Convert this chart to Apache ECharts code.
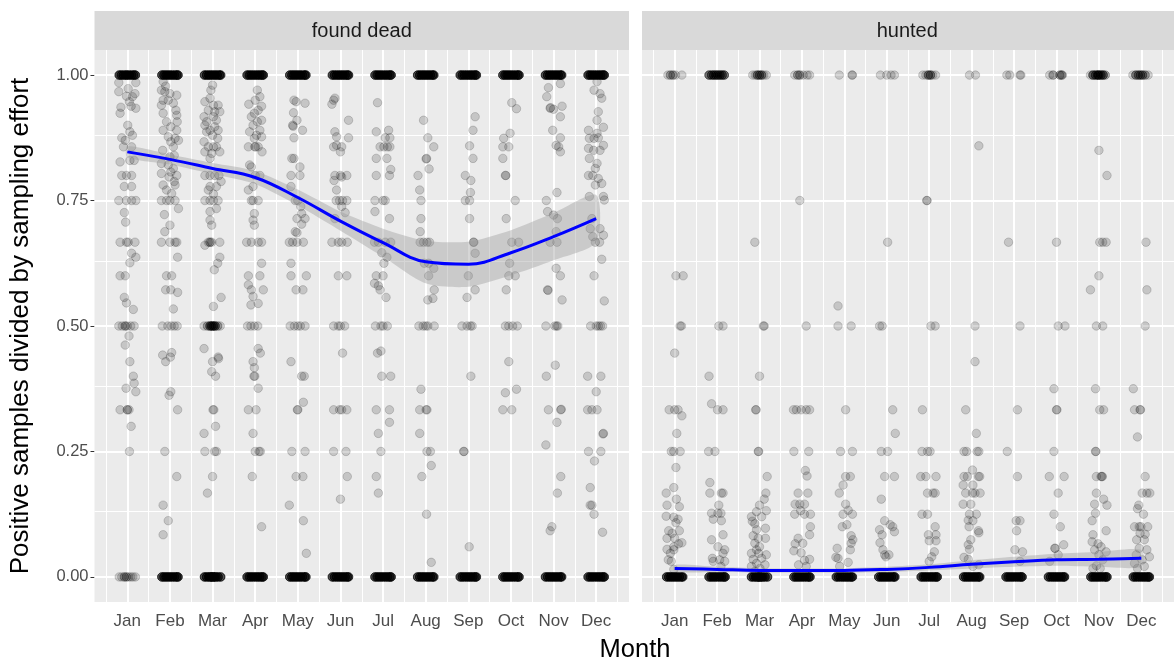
<!DOCTYPE html>
<html>
<head>
<meta charset="utf-8">
<script src="https://cdn.jsdelivr.net/npm/echarts@6/dist/echarts.min.js"></script>
<style>
  html, body { margin: 0; padding: 0; background: #fff; }
  #chart { width: 1174px; height: 664px; }
</style>
</head>
<body>
<div id="chart"></div>
<script>
// Month labels for the x axis (x = 1..12)
const months = ['Jan','Feb','Mar','Apr','May','Jun','Jul','Aug','Sep','Oct','Nov','Dec'];
const yTicks = [0, 0.25, 0.5, 0.75, 1];

// Observations per month as [jitter, ratio, count]; jitter is the horizontal offset
// from the month, count (default 1) is the number of samples stacked at that spot
const deadPoints = [
  // Jan
  [[-.19,1,6],[-.14,1,6],[-.09,1,6],[-.04,1,6],[0,1,6],[.05,1,6],[.1,1,6],[.15,1,6],[.19,1,6],
   [-.2,.985],[.2,.985],[-.2,.967],[.02,.973],[.18,.963],[-.02,.958],[.12,.957],[.05,.947],[-.15,.936],[.09,.938],[.2,.934],
   [-.17,.924],[.01,.9],[.06,.887],[-.13,.875],[.12,.88],[-.05,.87],[-.09,.857],[.1,.857],[-.17,.827],[.06,.83],[.16,.83],
   [-.13,.8],[-.02,.8],[.1,.8],[-.07,.778],[.1,.778],[-.2,.75],[-.02,.75],[.1,.75],[.2,.75],[-.07,.726],[-.04,.707],
   [-.17,.667],[-.02,.667],[.02,.667],[.18,.667],[.1,.645],[.06,.626],[.2,.637],[-.17,.6],[-.05,.6],[-.07,.557],[-.02,.546],[.14,.533],
   [-.2,.5],[-.12,.5],[-.05,.5,2],[0,.5],[.08,.5],[.16,.5],
   [.04,.48],[-.05,.462],[.06,.429],[.14,.4],[.16,.386],[-.03,.376],[.2,.369],[-.17,.333],[0,.333,2],[.04,.333],[.09,.3],[.05,.25],
   [-.19,0],[-.13,0],[-.07,0,2],[-.02,0,2],[.03,0],[.08,0],[.13,0],[.19,0]],
  // Feb
  [[-.19,1,6],[-.14,1,6],[-.09,1,6],[-.04,1,6],[.01,1,6],[.06,1,6],[.11,1,6],[.16,1,6],[.19,1,6],
   [-.16,.987],[-.1,.978],[-.2,.97],[-.12,.967],[0,.963],[.16,.96],[-.16,.95],[-.04,.95],[-.2,.94],[.08,.944],[.14,.93],
   [-.16,.924],[.16,.92],[-.08,.907],[.17,.907],[.02,.897],[-.16,.89],[.16,.89],[-.04,.877],[.12,.874],[.02,.867],[.2,.87],
   [.08,.857],[-.17,.85],[.1,.84],[0,.837],[-.2,.824],[-.04,.821],[.08,.814],[.02,.807],[.16,.8],[-.2,.804],[-.02,.797],
   [.1,.788],[-.16,.781],[.12,.781],[-.08,.771],[.04,.764],[-.2,.75],[-.08,.75],[0,.75],[.12,.75],[.2,.734],[-.13,.722],
   [0,.701],[-.12,.688],[-.2,.667],[0,.667],[.12,.667],[.16,.667],[.18,.637],[-.08,.6],[.04,.6],[-.1,.572],[.02,.572],[.18,.567],[.08,.534],
   [-.18,.5],[-.05,.5],[.03,.5],[.1,.5],[.17,.5],
   [-.17,.442],[.04,.447],[-.1,.429],[.01,.438],[.02,.369],[-.02,.362],[.18,.333],[-.12,.25],[.16,.2],[-.16,.143],[-.04,.112],[-.16,.084],
   [-.19,0,6],[-.14,0,6],[-.09,0,6],[-.04,0,6],[.01,0,6],[.06,0,6],[.11,0,6],[.16,0,6],[.19,0,6]],
  // Mar
  [[-.19,1,6],[-.14,1,6],[-.09,1,6],[-.04,1,6],[.01,1,6],[.06,1,6],[.11,1,6],[.16,1,6],[.19,1,6],
   [0,.98],[-.04,.97],[-.18,.947],[-.06,.954],[.02,.94],[.13,.94],[.17,.927],[-.1,.93],[.05,.927],[-.2,.917],[-.14,.907],
   [.02,.917],[-.18,.9],[.09,.91],[-.06,.89],[.05,.897],[.13,.89],[-.14,.887],[0,.88],[.12,.874],[-.2,.867],[-.1,.857],
   [.02,.857],[.09,.857],[-.18,.847],[-.02,.844],[.17,.847],[-.06,.834],[-.18,.8],[-.06,.8],[.05,.8],[.15,.8],[.2,.788],
   [-.06,.778],[.09,.778],[-.1,.771],[.02,.763],[-.18,.75],[-.06,.75],[.02,.75],[.13,.75],[.09,.734],[-.06,.728],[-.06,.711],
   [-.02,.701],[-.1,.667],[-.06,.667,2],[-.02,.667],[.17,.667],[-.18,.661],[.17,.637],[.12,.625],[.04,.612],[.2,.557],[.02,.539],
   [-.2,.5],[-.12,.5,2],[-.06,.5,4],[-.02,.5,4],[.02,.5,4],[.06,.5,4],[.12,.5,2],[.18,.5],
   [-.2,.455],[0,.429],[.13,.438],[.14,.435],[-.02,.409],[.07,.4],[.01,.333],[.03,.333],[.07,.3],[-.2,.286],[-.18,.25],[.05,.25],[.09,.25],[0,.2],[-.12,.167],
   [-.19,0,6],[-.14,0,6],[-.09,0,6],[-.05,0,6],[-.02,0,6],[.01,0,6],[.04,0,6],[.08,0,6],[.13,0,6],[.19,0,6]],
  // Apr
  [[-.19,1,6],[-.14,1,6],[-.09,1,6],[-.04,1,6],[.01,1,6],[.06,1,6],[.11,1,6],[.16,1,6],[.19,1,6],
   [.05,.97],[.11,.957],[0,.95],[-.15,.942],[.15,.938],[.07,.93],[-.02,.924],[-.09,.917],[.15,.91],[.05,.907],[-.05,.9],
   [-.13,.887],[.11,.89],[.03,.88],[.15,.877],[-.02,.874],[-.16,.857],[-.01,.857],[.01,.857],[.07,.857],[.16,.847],[-.13,.821],
   [-.09,.817],[.11,.8],[0,.8],[-.16,.771],[-.05,.778],[-.09,.75],[.07,.75],[-.05,.75],[-.02,.724],[-.05,.711],[-.02,.701],
   [-.2,.667],[-.09,.667],[.07,.667],[.15,.667],[.15,.625],[-.16,.6],[.11,.6],[-.16,.582],[-.09,.572],[.19,.572],[-.05,.559],[-.1,.542],[.07,.545],
   [-.18,.5],[-.1,.5],[-.02,.5],[.06,.5],
   [.07,.455],[.12,.446],[-.05,.429],[-.02,.417],[-.03,.4],[-.01,.4],[.07,.376],[-.16,.333],[.02,.333],[-.05,.286],[0,.25],[.09,.25],[.12,.25],[-.07,.2],[.15,.1],
   [-.19,0,6],[-.14,0,6],[-.09,0,6],[-.04,0,6],[.01,0,6],[.06,0,6],[.11,0,6],[.16,0,6],[.19,0,6]],
  // May
  [[-.19,1,6],[-.14,1,6],[-.09,1,6],[-.04,1,6],[.01,1,6],[.06,1,6],[.11,1,6],[.16,1,6],[.19,1,6],
   [-.09,.95],[-.04,.947],[.17,.944],[-.1,.925],[-.02,.91],[-.12,.9],[-.11,.898],[.11,.89],[-.09,.875],[-.14,.834],[-.09,.834],
   [.05,.817],[-.16,.8],[.05,.8],[-.16,.778],[-.06,.75],[0,.75],[.07,.738],[.09,.724],[-.02,.714],[.17,.714],[.09,.703],
   [-.06,.688],[-.02,.686],[-.2,.667],[-.12,.667],[-.02,.667],[.13,.667],[-.16,.625],[-.16,.6],[.2,.6],[-.04,.572],[.12,.572],
   [-.18,.5],[-.08,.5],[0,.5],[.06,.5],[.17,.5],
   [-.16,.429],[.09,.4],[.15,.4],[.13,.348],[0,.333],[-.01,.333],[-.14,.25],[.17,.25],[-.04,.2],[.12,.2],[-.2,.143],[.13,.112],[.2,.047],
   [-.19,0,6],[-.14,0,6],[-.09,0,6],[-.04,0,6],[.01,0,6],[.06,0,6],[.11,0,6],[.16,0,6],[.19,0,6]],
  // Jun
  [[-.19,1,6],[-.14,1,6],[-.09,1,6],[-.04,1,6],[.01,1,6],[.06,1,6],[.11,1,6],[.16,1,6],[.19,1,6],
   [-.16,.95],[-.13,.954],[-.2,.942],[.19,.91],[-.13,.887],[-.09,.877],[.19,.875],[-.16,.857],[-.09,.86],[.03,.857],[0,.847],
   [-.13,.8],[0,.8],[.15,.8],[-.15,.79],[.03,.797],[-.09,.771],[-.1,.75],[-.02,.75],[.05,.75],[.15,.75],[.03,.738],[.11,.726],
   [-.13,.714],[-.2,.667],[-.05,.667],[.03,.667],[.16,.667],[-.05,.6],[.15,.6],
   [-.16,.5],[-.05,.5],[0,.5],[.1,.5],
   [.05,.446],[-.16,.333],[-.02,.333],[.03,.333],[.15,.333],[-.16,.25],[.13,.25],[.16,.2],[0,.155],
   [-.19,0,6],[-.14,0,6],[-.09,0,6],[-.04,0,6],[.01,0,6],[.06,0,6],[.11,0,6],[.16,0,6],[.19,0,6]],
  // Jul
  [[-.19,1,6],[-.14,1,6],[-.09,1,6],[-.04,1,6],[.01,1,6],[.06,1,6],[.11,1,6],[.16,1,6],[.19,1,6],
   [-.13,.945],[-.16,.887],[.13,.89],[.05,.875],[.16,.875],[-.07,.857],[.02,.857],[.1,.857],[.16,.857],[-.16,.834],[.09,.834],
   [.18,.812],[.15,.8],[-.16,.8],[-.19,.75],[0,.75],[.05,.75],[-.19,.728],[.15,.714],[-.2,.667],[-.11,.667],[.05,.667],[.18,.667],
   [-.03,.646],[.09,.637],[.02,.625],[-.16,.6],[0,.6],[-.2,.585],[-.11,.58],[-.07,.572],[.07,.557],
   [-.18,.5],[-.05,.5],[0,.5],[.1,.5],
   [-.13,.446],[-.05,.45],[-.03,.4],[.18,.4],[-.16,.333],[.15,.333],[.15,.308],[-.11,.286],[-.05,.25],[-.16,.2],[-.11,.167],
   [-.19,0,6],[-.14,0,6],[-.09,0,6],[-.04,0,6],[.01,0,6],[.06,0,6],[.11,0,6],[.16,0,6],[.19,0,6]],
  // Aug
  [[-.19,1,6],[-.14,1,6],[-.09,1,6],[-.04,1,6],[.01,1,6],[.06,1,6],[.11,1,6],[.16,1,6],[.19,1,6],
   [-.05,.91],[.05,.875],[.19,.857],[.02,.834],[.01,.833],[.08,.813],[-.18,.8],[-.14,.771],[-.11,.75],[-.11,.714],[-.13,.688],
   [-.13,.667],[-.05,.667],[.03,.667],[.09,.667],[-.03,.625],[.07,.625],[.19,.615],[.07,.6],[.2,.572],[.17,.555],[.05,.552],
   [-.16,.5],[-.06,.5],[0,.5],[.05,.5],[.2,.5],
   [-.11,.374],[-.14,.333],[.01,.333],[.03,.333],[-.14,.286],[.03,.25],[.11,.25],[.13,.222],[-.09,.2],[.02,.125],[.13,.029],
   [-.19,0,6],[-.14,0,6],[-.09,0,6],[-.04,0,6],[.01,0,6],[.06,0,6],[.11,0,6],[.16,0,6],[.19,0,6]],
  // Sep
  [[-.19,1,6],[-.14,1,6],[-.09,1,6],[-.04,1,6],[.01,1,6],[.06,1,6],[.11,1,6],[.16,1,6],[.19,1,6],
   [.16,.917],[.11,.89],[.03,.859],[.11,.834],[-.07,.8],[.06,.79],[.05,.766],[-.07,.75],[.03,.75],[.03,.714],[.13,.667],[.12,.667],
   [.16,.645],[0,.6],[.16,.572],[-.03,.557],
   [-.15,.5],[-.03,.5],[.05,.5],[.09,.5],
   [.06,.4],[-.11,.25],[-.1,.25],[.02,.06],
   [-.19,0,6],[-.14,0,6],[-.09,0,6],[-.04,0,6],[.01,0,6],[.06,0,6],[.11,0,6],[.16,0,6],[.19,0,6]],
  // Oct
  [[-.19,1,6],[-.14,1,6],[-.09,1,6],[-.04,1,6],[.01,1,6],[.06,1,6],[.11,1,6],[.16,1,6],[.19,1,6],
   [.02,.945],[.13,.933],[-.02,.884],[-.17,.874],[-.19,.857],[-.05,.857],[-.19,.834],[-.13,.8],[-.12,.8],[.1,.75],[-.11,.714],
   [.02,.667],[.18,.667],[-.03,.625],[-.05,.6],[.1,.6],[-.11,.572],
   [-.13,.5],[-.05,.5],[.04,.5],[.15,.5],
   [-.05,.429],[-.13,.367],[.13,.374],[-.19,.333],[.02,.333],
   [-.19,0,6],[-.14,0,6],[-.09,0,6],[-.04,0,6],[.01,0,6],[.06,0,6],[.11,0,6],[.16,0,6],[.19,0,6]],
  // Nov
  [[-.19,1,6],[-.14,1,6],[-.09,1,6],[-.04,1,6],[.01,1,6],[.06,1,6],[.11,1,6],[.16,1,6],[.19,1,6],
   [-.12,.975],[.16,.983],[-.16,.957],[-.08,.934],[-.07,.935],[0,.932],[.2,.938],[.16,.917],[-.02,.89],[.16,.875],[.06,.86],
   [.12,.857],[.16,.847],[.08,.766],[-.17,.75],[-.14,.728],[0,.721],[.09,.714],[.06,.688],[-.08,.667],[.08,.667],[.06,.615],
   [.16,.6],[-.14,.572],[-.13,.571],[.2,.552],
   [-.18,.5],[.03,.5],[.07,.5],[.1,.5],
   [.04,.422],[-.17,.4],[-.12,.333],[.17,.333],[.18,.334],[.08,.308],[-.18,.263],[.17,.2],[.09,.167],[-.04,.1],[-.08,.092],
   [-.19,0,6],[-.14,0,6],[-.09,0,6],[-.04,0,6],[.01,0,6],[.06,0,6],[.11,0,6],[.16,0,6],[.19,0,6]],
  // Dec
  [[-.19,1,6],[-.14,1,6],[-.09,1,6],[-.04,1,6],[.01,1,6],[.06,1,6],[.11,1,6],[.16,1,6],[.19,1,6],
   [.02,.987],[-.05,.97],[.09,.963],[.13,.954],[.05,.927],[.02,.91],[-.18,.89],[.02,.884],[.17,.896],[-.16,.874],[-.05,.874],
   [.05,.875],[.17,.86],[-.18,.854],[-.06,.85],[.09,.85],[-.16,.834],[.02,.824],[-.02,.814],[-.18,.8],[-.08,.8],[.05,.794],
   [-.02,.781],[.13,.784],[-.16,.758],[.17,.758],[.19,.751],[-.1,.714],[-.14,.694],[.09,.694],[-.08,.678],[.17,.681],
   [-.02,.667],[.08,.667],[.13,.633],[-.05,.6],[.19,.55],
   [-.13,.5],[0,.5],[.05,.5],[.1,.5],[.15,.5],
   [-.2,.4],[.11,.4],[0,.369],[-.2,.333],[-.1,.333],[.02,.333],[.17,.286],[.16,.285],[-.18,.25],[.11,.25],[-.04,.231],[-.14,.178],
   [-.14,.143],[-.1,.143],[-.05,.125],[.15,.089],
   [-.19,0,6],[-.14,0,6],[-.09,0,6],[-.04,0,6],[.01,0,6],[.06,0,6],[.11,0,6],[.16,0,6],[.19,0,6]]
];

const huntedPoints = [
  // Jan
  [[-.16,1],[-.1,1,2],[-.04,1,2],[.02,1],[.17,1],[.03,.6],[.2,.6],[.13,.5],[.16,.5],
   [0,.446],[-.13,.333],[0,.333],[.08,.333],[.17,.321],[.05,.286],[-.08,.25],[-.02,.25],[.13,.25],[.03,.218],[-.02,.178],
   [-.2,.167],[.04,.155],[-.18,.143],[.11,.14],[-.2,.121],[-.02,.119],[.08,.115],[.03,.108],[.11,.092],[-.14,.092],[-.06,.087],
   [-.18,.077],[0,.077],[.17,.068],[.09,.066],[-.02,.06],[-.18,.055],[-.02,.054],[-.1,.047],[-.15,.034],[-.08,.031],[-.02,.015],
   [-.19,0,6],[-.14,0,6],[-.09,0,6],[-.04,0,6],[.01,0,6],[.06,0,6],[.11,0,6],[.16,0,6],[.19,0,6]],
  // Feb
  [[-.19,1,4],[-.13,1,4],[-.08,1,4],[-.03,1,4],[.02,1,4],[.07,1,4],[.12,1,4],[.17,1,4],
   [.04,.5],[.14,.5],[-.19,.4],[-.13,.345],[.01,.333],[.14,.333],[-.2,.25],[-.05,.25],[-.17,.188],[-.17,.167],[.1,.167],[.14,.167],
   [.04,.143],[-.13,.127],[.02,.127],[.09,.127],[-.09,.115],[.1,.112],[.14,.084],[-.13,.074],[.02,.06],[.18,.054],[.14,.047],
   [-.11,.037],[.06,.034],[.18,.031],[-.09,.031],[.09,.021],
   [-.19,0,6],[-.14,0,6],[-.09,0,6],[-.04,0,6],[.01,0,6],[.06,0,6],[.11,0,6],[.16,0,6],[.19,0,6]],
  // Mar
  [[-.16,1],[-.1,1],[-.05,1,3],[0,1,3],[.05,1,3],[.1,1],[.16,1],
   [-.11,.667],[.09,.5],[.11,.5],[0,.4],[-.09,.333],[-.08,.333],[-.03,.25],[-.02,.25],[.18,.2],[.15,.167],[.11,.155],[0,.143],
   [.16,.132],[-.07,.13],[-.19,.12],[-.17,.111],[-.11,.106],[.05,.12],[-.07,.094],[.14,.097],[-.15,.082],[-.03,.077],[.14,.077],
   [-.11,.067],[0,.06],[-.07,.054],[-.19,.047],[-.02,.047],[.16,.044],[-.15,.035],[.05,.037],[-.07,.027],[.13,.024],[-.19,.021],
   [.01,.017],[-.11,.011],
   [-.19,0,6],[-.14,0,6],[-.09,0,6],[-.05,0,6],[-.02,0,6],[.01,0,6],[.04,0,6],[.08,0,6],[.13,0,6],[.19,0,6]],
  // Apr
  [[-.17,1],[-.1,1,2],[-.05,1,2],[.03,1],[.12,1],[.18,1],
   [-.05,.75],[.1,.5],[-.2,.333],[-.13,.333],[-.02,.333],[.1,.333],[.18,.333],[-.19,.25],[.16,.25],[.08,.212],[.12,.201],
   [-.09,.167],[.14,.167],[-.16,.145],[-.05,.145],[.06,.145],[-.17,.125],[-.03,.132],[.06,.125],[.2,.125],[.2,.1],[.18,.084],
   [-.09,.077],[-.16,.066],[.02,.067],[-.19,.052],[-.02,.048],[.18,.035],[.06,.033],[-.08,.024],[.1,.021],
   [-.19,0,6],[-.14,0,6],[-.09,0,6],[-.04,0,6],[.01,0,6],[.06,0,6],[.11,0,6],[.16,0,6],[.19,0,6]],
  // May
  [[-.12,1],[.18,1],[.19,1],
   [-.15,.54],[-.15,.5],[.16,.5],[.03,.333],[-.09,.25],[.19,.25],[.03,.2],[.14,.2],[-.03,.183],[-.12,.167],[.03,.145],[.09,.133],
   [.19,.125],[-.03,.125],[-.05,.1],[.06,.104],[.16,.082],[.2,.074],[.16,.067],[.14,.054],[-.17,.057],[-.2,.039],[-.15,.037],
   [.09,.029],[-.11,.021],
   [-.19,0,6],[-.14,0,6],[-.09,0,6],[-.04,0,6],[.01,0,6],[.06,0,6],[.11,0,6],[.16,0,6],[.19,0,6]],
  // Jun
  [[-.15,1],[0,1],[.1,1],[.18,1],
   [.02,.667],[-.17,.5],[-.11,.5],[.14,.333],[.2,.286],[-.13,.25],[.02,.25],[-.05,.2],[.18,.2],[-.13,.155],[-.05,.112],[.14,.1],
   [.08,.104],[.18,.09],[-.17,.094],[-.11,.084],[-.16,.068],[-.09,.054],[-.02,.04],[-.05,.044],[.05,.044],
   [-.19,0,6],[-.14,0,6],[-.09,0,6],[-.04,0,6],[.01,0,6],[.06,0,6],[.11,0,6],[.16,0,6],[.19,0,6]],
  // Jul
  [[-.15,1],[-.08,1],[-.02,1,3],[.03,1,3],[.08,1],[.15,1],
   [-.06,.75],[-.05,.75],[.04,.5],[.14,.5],[-.16,.333],[-.17,.25],[-.04,.25],[.02,.25],[-.2,.2],[-.08,.2],[.16,.2],[-.04,.167],
   [.09,.167],[.14,.167],[-.17,.125],[-.04,.125],[.14,.1],[-.02,.084],[.16,.084],[0,.072],[.16,.072],[.12,.05],[.06,.04],[0,.031],
   [-.19,0,6],[-.14,0,6],[-.09,0,6],[-.04,0,6],[.01,0,6],[.06,0,6],[.11,0,6],[.16,0,6],[.19,0,6]],
  // Aug
  [[-.05,1],[.09,1],
   [.17,.859],[.08,.5],[.08,.429],[-.14,.333],[.11,.286],[-.18,.25],[-.12,.25],[.13,.25],[.17,.25],[.02,.213],[-.18,.2],[-.1,.2],
   [.16,.2],[.19,.2],[-.2,.183],[.03,.183],[-.14,.167],[.02,.167],[.08,.167],[.2,.167],[-.2,.145],[-.02,.145],[-.05,.125],
   [.11,.125],[-.08,.113],[.03,.112],[-.06,.1],[.16,.092],[.17,.088],[-.02,.074],[-.08,.064],[-.05,.055],[-.18,.039],[-.08,.035],
   [.17,.024],[.03,.021],
   [-.19,0,6],[-.14,0,6],[-.09,0,6],[-.04,0,6],[.01,0,6],[.06,0,6],[.11,0,6],[.16,0,6],[.19,0,6]],
  // Sep
  [[-.17,1],[-.1,1],[.14,1],[.16,1],
   [-.13,.667],[.14,.5],[.08,.333],[-.16,.25],[.08,.2],[.05,.112],[.14,.112],[.06,.092],[.02,.054],[.2,.05],[.14,.031],
   [-.19,0,6],[-.14,0,6],[-.09,0,6],[-.04,0,6],[.01,0,6],[.06,0,6],[.11,0,6],[.16,0,6],[.19,0,6]],
  // Oct
  [[-.16,1],[-.08,1,2],[.08,1,2],[.12,1,2],[.14,1],
   [0,.667],[.04,.5],[.2,.5],[-.06,.375],[0,.333],[.01,.333],[-.06,.25],[-.17,.2],[.18,.2],[.04,.167],[-.06,.125],[.09,.1],
   [.17,.064],[-.04,.057],[-.03,.057],[.04,.044],[-.16,.031],
   [-.19,0,6],[-.14,0,6],[-.09,0,6],[-.04,0,6],[.01,0,6],[.06,0,6],[.11,0,6],[.16,0,6],[.19,0,6]],
  // Nov
  [[-.2,1],[-.14,1,4],[-.08,1,4],[-.03,1,4],[0,1,4],[.05,1,4],[.1,1,4],[.15,1,2],
   [0,.85],[.19,.8],[.02,.667],[.09,.667],[.17,.667],[0,.6],[-.2,.572],[-.06,.5],[.09,.5],[-.08,.375],[.02,.333],[.11,.333],
   [-.08,.25],[-.07,.25],[-.06,.2],[.05,.2],[.08,.2],[.07,.2],[-.06,.167],[.19,.143],[.11,.155],[-.1,.145],[-.08,.127],[-.16,.112],
   [.17,.092],[-.14,.084],[-.16,.07],[-.02,.066],[.05,.06],[.17,.05],[-.1,.054],[0,.044],[.09,.034],[-.14,.017],[.03,.017],[-.06,.022],
   [-.19,0,6],[-.14,0,6],[-.09,0,6],[-.04,0,6],[.01,0,6],[.06,0,6],[.11,0,6],[.16,0,6],[.19,0,6]],
  // Dec
  [[-.2,1],[-.13,1,3],[-.07,1,3],[-.02,1,3],[.03,1,3],[.09,1,2],[.16,1],
   [.11,.667],[.13,.572],[.09,.5],[-.19,.375],[-.16,.333],[-.03,.333],[-.02,.333],[-.09,.279],[.09,.2],[.02,.167],[.13,.167],
   [.2,.167],[-.06,.143],[-.09,.136],[.05,.125],[-.16,.1],[-.05,.1],[-.01,.1],[.15,.1],[-.03,.087],[.09,.085],[-.11,.074],
   [.07,.074],[-.05,.057],[.13,.054],[.19,.04],[-.12,.044],[.02,.034],[-.16,.027],[.07,.021],[-.09,.017],
   [-.19,0,6],[-.14,0,6],[-.09,0,6],[-.04,0,6],[.01,0,6],[.06,0,6],[.11,0,6],[.16,0,6],[.19,0,6]]
];

// Smoothed trend per month with its confidence band
const deadFit  = [0.847, 0.832, 0.814, 0.796, 0.756, 0.709, 0.666, 0.628, 0.623, 0.646, 0.678, 0.714];
const deadLow  = [0.836, 0.822, 0.803, 0.783, 0.740, 0.690, 0.638, 0.585, 0.578, 0.601, 0.631, 0.667];
const deadHigh = [0.858, 0.842, 0.825, 0.809, 0.772, 0.728, 0.694, 0.670, 0.668, 0.691, 0.725, 0.761];
const huntedFit  = [0.017, 0.015, 0.013, 0.013, 0.013, 0.015, 0.019, 0.025, 0.030, 0.034, 0.035, 0.037];
const huntedLow  = [0.010, 0.010, 0.009, 0.009, 0.009, 0.010, 0.013, 0.017, 0.020, 0.022, 0.020, 0.020];
const huntedHigh = [0.024, 0.020, 0.017, 0.017, 0.017, 0.020, 0.025, 0.033, 0.040, 0.046, 0.050, 0.054];

const panels = ['found dead', 'hunted'];

const chart = echarts.init(document.getElementById('chart'), null, { renderer: 'canvas' });

const gridRects = [
  { left: 94.5, top: 50, width: 534.5, height: 552 },
  { left: 642, top: 50, width: 534.5, height: 552 }
];
const monthValues = months.map((m, i) => i + 1);
const minorX = months.map((m, i) => i + 0.5).concat([12.5]);
const minorY = [0.125, 0.375, 0.625, 0.875];
const font = 'Liberation Sans, Arial, sans-serif';

// month-grouped [jitter, ratio, count] -> flat [x, y] samples
function toXY(points) {
  const out = [];
  points.forEach((list, m) => list.forEach(p => {
    const n = p[2] || 1;
    for (let k = 0; k < n; k++) out.push([m + 1 + p[0], p[1]]);
  }));
  return out;
}
function seq(values) { return values.map((v, i) => [i + 1, v]); }

const series = [];
const fits = [[deadFit, deadLow, deadHigh], [huntedFit, huntedLow, huntedHigh]];
const pts = [deadPoints, huntedPoints];

[0, 1].forEach(g => {
  // panel grid lines
  series.push({
    type: 'line', xAxisIndex: g, yAxisIndex: g, data: [], z: 1, silent: true,
    markLine: {
      z: 1, silent: true, symbol: 'none', animation: false, label: { show: false },
      data: [
        ...minorX.map(v => ({ xAxis: v, lineStyle: { color: '#fff', width: 1, type: 'solid' } })),
        ...minorY.map(v => ({ yAxis: v, lineStyle: { color: '#fff', width: 1, type: 'solid' } })),
        ...monthValues.map(v => ({ xAxis: v, lineStyle: { color: '#fff', width: 2, type: 'solid' } })),
        ...yTicks.map(v => ({ yAxis: v, lineStyle: { color: '#fff', width: 2, type: 'solid' } }))
      ]
    }
  });
  series.push({
    type: 'scatter', xAxisIndex: g, yAxisIndex: g, z: 3,
    data: toXY(pts[g]), symbolSize: 8.5, large: false,
    itemStyle: { color: 'rgba(0,0,0,0.2)', borderColor: 'rgba(0,0,0,0.2)', borderWidth: 1 },
    emphasis: { disabled: true }
  });
  const [fit, lo, hi] = fits[g];
  // confidence ribbon: upper edge forward, lower edge back
  series.push({
    type: 'custom', xAxisIndex: g, yAxisIndex: g, z: 4, silent: true, clip: true,
    data: [0],
    renderItem: (params, api) => {
      const upper = hi.map((v, i) => api.coord([i + 1, v]));
      const lower = lo.map((v, i) => api.coord([i + 1, v])).reverse();
      return {
        type: 'polygon', shape: { points: upper.concat(lower), smooth: 0.25 },
        style: { fill: 'rgba(153,153,153,0.4)', stroke: null }
      };
    }
  });
  series.push({
    type: 'line', xAxisIndex: g, yAxisIndex: g, z: 5, smooth: 0.4,
    data: seq(fit), symbol: 'none', lineStyle: { color: '#0000FF', width: 3 }, silent: true
  });
});

const graphics = [];
gridRects.forEach((r, i) => {
  graphics.push({
    type: 'rect', shape: { x: r.left, y: 11, width: r.width, height: 39 },
    style: { fill: '#D9D9D9' }, silent: true
  });
  graphics.push({
    type: 'text', x: r.left + r.width / 2 - (i === 1 ? 2 : 0), y: 31,
    style: { text: panels[i], fill: '#1A1A1A', font: '20px ' + font, textAlign: 'center', textVerticalAlign: 'middle' },
    silent: true
  });
});
graphics.push({
  type: 'text', x: 635, y: 650,
  style: { text: 'Month', fill: '#000', font: '25.5px ' + font, textAlign: 'center', textVerticalAlign: 'middle' },
  silent: true
});
graphics.push({
  type: 'text', x: 21, y: 326, rotation: Math.PI / 2,
  style: { text: 'Positive samples divided by sampling effort', fill: '#000', font: '26px ' + font, textAlign: 'center', textVerticalAlign: 'middle' },
  silent: true
});

chart.setOption({
  animation: false,
  backgroundColor: '#fff',
  grid: gridRects.map(r => ({ ...r, show: true, backgroundColor: '#EBEBEB', borderWidth: 0, containLabel: false })),
  xAxis: [0, 1].map(g => ({
    type: 'value', gridIndex: g, min: 0.23, max: 12.77,
    axisLine: { show: false },
    axisTick: { show: true, customValues: monthValues, length: 4, lineStyle: { color: '#333', width: 1 } },
    axisLabel: { customValues: monthValues, formatter: v => months[Math.round(v) - 1], color: '#4D4D4D', fontSize: 17, fontFamily: font, margin: 11 },
    splitLine: { show: false }
  })),
  yAxis: [0, 1].map(g => ({
    type: 'value', gridIndex: g, min: -0.05, max: 1.05,
    axisLine: { show: false },
    axisTick: { show: g === 0, customValues: yTicks, length: 4, lineStyle: { color: '#333', width: 1 } },
    axisLabel: { show: g === 0, customValues: yTicks, formatter: v => v.toFixed(2), color: '#4D4D4D', fontSize: 16.5, fontFamily: font, margin: 6 },
    splitLine: { show: false }
  })),
  graphic: graphics,
  series: series
});
</script>
</body>
</html>
